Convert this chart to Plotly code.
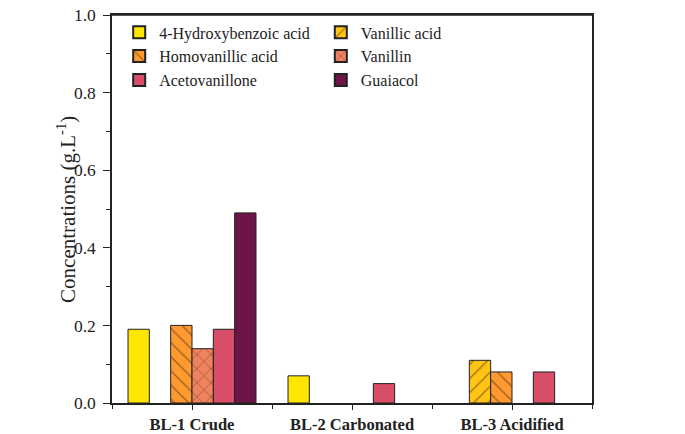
import plotly.graph_objects as go

samples = ['BL-1 Crude', 'BL-2 Carbonated', 'BL-3 Acidified']
x_pos = [0, 1, 2]

hydroxybenzoic = [0.19, 0.07, None]
vanillic = [None, None, 0.11]
homovanillic = [0.20, None, 0.08]
vanillin = [0.14, None, None]
acetovanillone = [0.19, 0.05, 0.08]
guaiacol = [0.49, None, None]

FONT = "'Liberation Serif', 'Times New Roman', Times, serif"

series = [
    ('4-Hydroxybenzoic acid', hydroxybenzoic, '#FFE600', '', 'legend'),
    ('Vanillic acid', vanillic, '#FFC414', '/', 'legend2'),
    ('Homovanillic acid', homovanillic, '#FF9A30', '\\', 'legend'),
    ('Vanillin', vanillin, '#F0825E', 'x', 'legend2'),
    ('Acetovanillone', acetovanillone, '#D84E68', '', 'legend'),
    ('Guaiacol', guaiacol, '#6D1547', '', 'legend2'),
]

fig = go.Figure()

for name, vals, color, shape, leg in series:
    fig.add_trace(
        go.Bar(
            x = x_pos,
            y = vals,
            name = name,
            legend = leg,
            marker = dict(
                color = color,
                line = dict(color = '#222222', width = 1),
                pattern = dict(shape = shape, fgcolor = '#4a2a08',
                               size = 10, solidity = 0.15),
            ),
        )
    )

axis_common = dict(
    showline = True,
    linecolor = '#222222',
    linewidth = 1.5,
    mirror = True,
    ticks = 'outside',
    tickcolor = '#222222',
    ticklen = 7,
    tickwidth = 1.2,
    showgrid = False,
    zeroline = False,
)

leg_style = dict(
    font = dict(family = FONT, size = 16, color = '#222222'),
    bgcolor = 'rgba(0,0,0,0)',
    tracegroupgap = 0,
    itemsizing = 'constant',
    yanchor = 'top',
    xanchor = 'left',
)

fig.update_layout(
    width = 685,
    height = 434,
    margin = dict(l = 112, r = 93, t = 15, b = 31, autoexpand = False),
    paper_bgcolor = 'white',
    plot_bgcolor = 'white',
    barmode = 'group',
    bargap = 0.2,
    bargroupgap = 0,
    font = dict(family = FONT, size = 14, color = '#222222'),
    xaxis = dict(
        axis_common,
        ticklen = 5,
        range = [-0.5, 2.5],
        tickvals = x_pos,
        ticktext = ['<b>%s</b>' % s for s in samples],
        tickfont = dict(family = FONT, size = 16.5),
        minor = dict(tick0 = 0.5, dtick = 1, ticks = 'outside', ticklen = 4,
                     tickcolor = '#222222'),
    ),
    yaxis = dict(
        axis_common,
        range = [0, 1.0],
        tick0 = 0,
        dtick = 0.2,
        tickformat = '.1f',
        ticklabelstandoff = 4,
        tickfont = dict(family = FONT, size = 17.5),
        minor = dict(dtick = 0.1, ticks = 'outside', ticklen = 4,
                     tickcolor = '#222222'),
    ),
    legend = dict(leg_style, x = 0.015, y = 0.999),
    legend2 = dict(leg_style, x = 0.435, y = 0.999),
)

# top frame line drawn explicitly (the mirrored one was not showing)
fig.add_shape(
    type = 'line',
    xref = 'paper', yref = 'paper',
    x0 = 0, x1 = 1, y0 = 1, y1 = 1,
    line = dict(color = '#222222', width = 1.5),
    layer = 'above',
)

# y-axis title placed by hand so it sits close to the tick labels
fig.add_annotation(
    text = 'Concentrations (g.L<sup>-1</sup>)',
    xref = 'paper', yref = 'paper',
    x = -0.096, y = 0.5,
    xanchor = 'center', yanchor = 'middle',
    textangle = -90,
    showarrow = False,
    font = dict(family = FONT, size = 21, color = '#222222'),
)

# drop the default body margin so the figure fills the window exactly
fig.write_html('out.html', config = {'displayModeBar': False},
               post_script = "document.body.style.margin = '0';")
